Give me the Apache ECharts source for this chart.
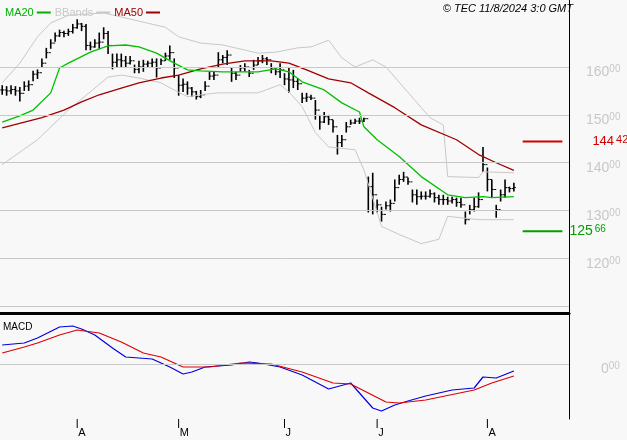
<!DOCTYPE html>
<html>
<head>
<meta charset="utf-8">
<script src="https://cdn.jsdelivr.net/npm/echarts@6/dist/echarts.min.js"></script>
<style>
  html, body { margin: 0; padding: 0; background: #f8f8f8; }
  #chart { width: 627px; height: 440px; }
</style>
</head>
<body>
<div id="chart"></div>
<script>
// daily bars (index 0 = first bar on the left)
var closes = [155.2,155.0,155.3,155.0,154.5,156.0,156.3,158.5,158.8,160.8,
  163.0,165.0,166.5,167.2,167.0,167.4,168.2,169.0,168.5,164.5,
  164.2,165.0,165.2,167.0,164.5,161.0,161.5,161.3,160.8,161.3,
  159.5,160.0,160.6,160.8,161.0,159.8,161.3,162.3,163.0,159.8,
  156.2,156.4,155.6,154.8,153.8,154.2,156.0,158.1,158.3,161.5,
  162.0,162.5,158.7,158.3,159.8,160.0,158.7,160.4,161.3,161.7,
  161.5,159.8,159.0,159.4,157.5,157.3,157.0,156.5,153.5,153.7,
  153.5,151.0,148.5,149.6,149.0,147.5,144.2,144.8,147.5,148.3,
  148.7,148.7,149.2,135.0,133.3,131.2,129.2,131.0,131.5,134.8,
  136.5,137.0,136.0,133.3,132.9,133.0,133.0,133.5,132.7,132.3,
  132.3,132.0,132.3,131.7,131.2,128.1,130.2,130.8,132.3,139.6,
  136.5,134.4,130.2,133.3,134.8,134.6,134.8];
var highs = [156.2,156.0,156.2,156.0,155.8,157.0,157.2,159.2,159.5,161.8,
  164.0,165.8,167.2,167.8,167.6,168.0,169.0,170.0,169.2,169.0,
  165.3,165.8,167.2,168.3,167.5,162.8,162.8,162.8,162.3,162.3,
  160.5,161.3,161.5,161.3,161.8,161.8,161.8,163.0,164.5,161.8,
  158.3,157.6,157.0,155.8,155.0,155.2,157.0,159.0,159.0,163.1,
  162.5,163.5,160.0,159.0,160.4,160.8,159.4,161.5,162.1,162.5,
  162.1,160.8,159.8,160.8,158.7,160.0,159.4,157.7,154.6,154.6,
  154.2,153.1,150.0,150.6,150.0,149.0,145.8,145.8,148.5,149.0,
  149.2,149.4,149.4,137.1,137.9,132.3,130.8,131.9,132.3,136.5,
  137.5,138.1,136.9,134.4,134.4,134.0,134.0,134.4,133.8,133.3,
  133.3,132.9,132.9,132.7,132.7,129.8,131.2,132.7,133.8,143.3,
  139.0,136.5,131.2,134.4,136.5,135.0,135.8];
var lows = [154.2,154.0,154.3,154.0,152.8,155.0,155.0,157.0,157.5,159.8,
  161.8,163.8,165.3,166.3,166.2,166.5,167.0,168.0,167.5,163.5,
  163.5,164.0,163.8,165.8,162.7,159.5,160.0,160.0,159.8,160.5,
  158.7,158.7,159.0,160.0,159.8,157.8,160.4,161.3,161.5,157.7,
  154.0,154.8,154.2,153.8,153.2,153.5,155.0,157.3,157.3,159.8,
  160.8,160.4,156.9,157.3,159.0,159.0,157.9,159.4,160.4,160.8,
  160.4,158.7,158.3,157.7,156.2,154.6,155.6,155.2,152.5,152.7,
  153.1,149.0,146.9,148.3,147.9,146.3,141.7,143.3,146.3,147.9,
  148.1,148.1,148.5,129.6,129.2,129.6,127.7,130.2,129.8,131.9,
  135.4,136.0,135.4,131.7,131.2,132.3,132.3,132.7,131.7,131.2,
  131.2,131.2,131.5,130.8,130.6,127.1,129.2,129.8,130.6,138.1,
  134.0,132.7,128.5,131.9,132.7,133.8,134.0];

// indicator lines, [bar index, value]
var ma20 = [[0,148.5],[4,149.8],[7,151],[11,154.6],[13,159.8],[15,160.8],[20,163.1],[24,164.4],
  [28,164.6],[31,164.2],[35,162.9],[39,160.8],[42,159.4],[45,159.2],[50,159],[58,159],[62,159.6],
  [65,159],[68,156.9],[73,155.2],[77,152.5],[81,150.6],[82,147.5],[85,144.8],[90,141.3],[95,137.1],
  [101,133.3],[105,132.7],[109,132.9],[111,132.7],[116,132.9]];
var ma50 = [[0,147.3],[9,149.4],[14,151],[18,152.7],[22,154.2],[27,155.6],[31,156.7],[36,157.7],
  [40,158.3],[45,159.6],[50,160.6],[55,161.3],[61,161.3],[65,160.8],[69,159.4],[74,157.5],[79,156.7],
  [83,154.6],[89,151.5],[95,147.9],[103,144.8],[108,141.7],[112,140],[116,138.4]];
var bbUpper = [[0,156.7],[4,160.8],[8,166.3],[11,169.2],[15,170.8],[23,171.3],[37,168.3],[40,166.3],
  [45,165],[50,164.6],[58,162.9],[62,163.1],[67,164],[70,164.2],[74,165.6],[77,161.9],[80,160],
  [84,161.5],[87,160],[97,149.4],[100,147.9],[101,137.1],[108,136.9],[109,138.1],[116,137.9]];
var bbLower = [[0,139.6],[8,144.8],[15,151],[24,157.9],[27,158.3],[31,157.7],[36,156.7],[39,155.2],
  [42,153.8],[45,154.2],[49,154.6],[58,154.6],[63,156.3],[65,154.8],[68,151.7],[71,146.3],[74,143.3],
  [80,142.7],[82,138.5],[86,126.7],[90,125],[95,123.1],[99,124],[101,128.8],[108,128.1],[116,128.1]];
var macd = [[0,1.9],[5,2.1],[8,2.6],[13,3.7],[16,3.8],[18,3.5],[21,2.9],[25,1.6],[28,0.7],[34,0.5],
  [38,-0.3],[41,-1.0],[43,-0.8],[46,-0.3],[52,-0.1],[56,0.2],[58,0.1],[63,-0.3],[68,-1.1],[74,-2.5],
  [79,-1.9],[81,-2.9],[84,-4.4],[86,-4.7],[89,-4.1],[92,-3.7],[96,-3.2],[102,-2.6],[107,-2.4],
  [109,-1.3],[112,-1.4],[116,-0.7]];
var signal = [[0,1.1],[5,1.7],[8,2.1],[13,2.9],[17,3.4],[22,3.1],[27,2.2],[32,1.1],[36,0.7],[41,-0.3],
  [47,-0.3],[54,0.1],[61,0],[68,-0.8],[75,-1.9],[79,-2.0],[87,-3.8],[90,-3.9],[96,-3.6],[107,-2.6],
  [111,-1.9],[116,-1.2]];

var levelHigh = 144.42;
var levelLow = 125.66;
var priceGrid = [110, 120, 130, 140, 150, 160];
var priceLabels = [120, 130, 140, 150, 160];
var monthTicks = {17: 'A', 40: 'M', 64: 'J', 85: 'J', 110: 'A'};
var slotCount = 129;

var categories = [];
for (var i = 0; i < slotCount; i++) categories.push(monthTicks[i] || '');
var tickIdx = Object.keys(monthTicks).map(Number);

var ohlc = [];
for (var i = 0; i < closes.length; i++)
  ohlc.push([i, lows[i], highs[i], i > 0 ? closes[i - 1] : closes[i], closes[i]]);

function supLabel(v, dec) {
  return '{a|' + v + '}{b|' + dec + '}';
}

var chart = echarts.init(document.getElementById('chart'));
var font = 'Liberation Sans';
var supRich = { a: { color: '#c8c8c8', fontSize: 14 }, b: { color: '#c8c8c8', fontSize: 10, padding: [0, 0, 6, 0] } };

var option = {
  backgroundColor: '#f8f8f8',
  animation: false,
  textStyle: { fontFamily: font },
  legend: {
    left: 0, top: 2, itemGap: 4, itemWidth: 14, itemHeight: 2, align: 'right',
    icon: 'rect', selectedMode: false,
    textStyle: { fontSize: 11, padding: [0, -2, 0, 0] },
    data: [
      { name: 'MA20', textStyle: { color: '#00b000' } },
      { name: 'BBands', textStyle: { color: '#c8c8c8' } },
      { name: 'MA50', textStyle: { color: '#a00000' } }
    ]
  },
  graphic: [
    { type: 'text', right: 54, top: 3, style: { text: '\u00a9 TEC 11/8/2024 3:0 GMT', font: 'italic 11px ' + font, fill: '#000' } },
    { type: 'text', left: 3, top: 322, style: { text: 'MACD', font: '10px ' + font, fill: '#000' } }
  ],
  grid: [
    { left: 0, top: 0, width: 569, height: 313 },
    { left: 0, top: 315, width: 569, height: 104 }
  ],
  xAxis: [
    { type: 'category', gridIndex: 0, data: categories,
      axisLine: { lineStyle: { color: '#000', width: 3 } },
      axisTick: { show: false }, axisLabel: { show: false } },
    { type: 'category', gridIndex: 1, data: categories,
      axisLine: { lineStyle: { color: '#000', width: 1 } },
      axisTick: { show: false },
      axisLabel: { interval: function (idx) { return !!monthTicks[idx]; },
        align: 'left', margin: 8, color: '#000', fontSize: 11, padding: [0, 0, 0, 1] } }
  ],
  yAxis: [
    { type: 'value', gridIndex: 0, position: 'right', min: 108.6, max: 174, scale: true,
      axisLine: { show: true, lineStyle: { color: '#000' } },
      axisTick: { show: false }, splitLine: { show: false },
      axisLabel: { customValues: priceLabels, margin: 17, padding: [11, 0, 0, 0],
        formatter: function (v) { return supLabel(v, '00'); }, rich: supRich } },
    { type: 'value', gridIndex: 1, position: 'right', min: -5.5, max: 4.9,
      axisLine: { show: true, lineStyle: { color: '#000' } },
      axisTick: { show: false }, splitLine: { show: false },
      axisLabel: { customValues: [0], margin: 32, padding: [11, 0, 0, 0],
        formatter: function () { return supLabel('0', '00'); }, rich: supRich } }
  ],
  series: [
    { name: 'grid', type: 'line', data: [], xAxisIndex: 0, yAxisIndex: 0,
      markLine: { silent: true, symbol: 'none', label: { show: false },
        lineStyle: { color: '#c8c8c8', type: 'solid', width: 1 },
        data: priceGrid.map(function (v) { return { yAxis: v }; }) } },
    { name: 'BBands', type: 'line', data: bbUpper, showSymbol: false, xAxisIndex: 0, yAxisIndex: 0,
      itemStyle: { color: '#c8c8c8' }, lineStyle: { color: '#c8c8c8', width: 1 } },
    { name: 'BBands', type: 'line', data: bbLower, showSymbol: false, xAxisIndex: 0, yAxisIndex: 0,
      lineStyle: { color: '#c8c8c8', width: 1 } },
    { name: 'MA50', type: 'line', data: ma50, showSymbol: false, xAxisIndex: 0, yAxisIndex: 0,
      itemStyle: { color: '#a00000' }, lineStyle: { color: '#a00000', width: 1.3 } },
    { name: 'MA20', type: 'line', data: ma20, showSymbol: false, xAxisIndex: 0, yAxisIndex: 0,
      itemStyle: { color: '#00b000' }, lineStyle: { color: '#00c000', width: 1.3 } },
    { name: 'ohlc', type: 'custom', xAxisIndex: 0, yAxisIndex: 0, data: ohlc,
      renderItem: function (params, api) {
        var x = api.coord([api.value(0), 0])[0];
        var lo = api.coord([api.value(0), api.value(1)])[1];
        var hi = api.coord([api.value(0), api.value(2)])[1];
        var op = api.coord([api.value(0), api.value(3)])[1];
        var cl = api.coord([api.value(0), api.value(4)])[1];
        return { type: 'group', children: [
          { type: 'line', shape: { x1: x, y1: hi, x2: x, y2: lo }, style: { stroke: '#000', lineWidth: 1.6 } },
          { type: 'line', shape: { x1: x - 2, y1: op, x2: x, y2: op }, style: { stroke: '#000', lineWidth: 1 } },
          { type: 'line', shape: { x1: x, y1: cl, x2: x + 2, y2: cl }, style: { stroke: '#000', lineWidth: 1 } }
        ] };
      } },
    { name: 'monthTicks', type: 'custom', xAxisIndex: 1, yAxisIndex: 1, clip: false,
      data: tickIdx.map(function (i) { return [i, -5.5]; }),
      renderItem: function (params, api) {
        var p = api.coord([api.value(0), api.value(1)]);
        return { type: 'line', shape: { x1: p[0], y1: p[1], x2: p[0], y2: p[1] + 9 },
          style: { stroke: '#000', lineWidth: 1 } };
      } },
    { name: 'high', type: 'line', data: [[117.5, levelHigh], [127, levelHigh]], showSymbol: false,
      xAxisIndex: 0, yAxisIndex: 0, lineStyle: { color: '#d00000', width: 2 },
      endLabel: { show: true, distance: 30,
        formatter: function () { return '{a|144}{b|42}'; },
        rich: { a: { color: '#d00000', fontSize: 13 }, b: { color: '#d00000', fontSize: 11, padding: [0, 0, 3, 2] } } } },
    { name: 'low', type: 'line', data: [[117.5, levelLow], [127, levelLow]], showSymbol: false,
      xAxisIndex: 0, yAxisIndex: 0, lineStyle: { color: '#00a000', width: 2 },
      endLabel: { show: true, distance: 7,
        formatter: function () { return '{a|125}{b|66}'; },
        rich: { a: { color: '#00a000', fontSize: 14 }, b: { color: '#00a000', fontSize: 10, padding: [0, 0, 4, 2] } } } },
    { name: 'MACD', type: 'line', data: macd, showSymbol: false, xAxisIndex: 1, yAxisIndex: 1,
      lineStyle: { color: '#0000e0', width: 1.2 },
      markLine: { silent: true, symbol: 'none', label: { show: false },
        lineStyle: { color: '#c8c8c8', type: 'solid', width: 1 }, data: [{ yAxis: 0 }] } },
    { name: 'signal', type: 'line', data: signal, showSymbol: false, xAxisIndex: 1, yAxisIndex: 1,
      lineStyle: { color: '#e00000', width: 1.2 } }
  ]
};

chart.setOption(option);
</script>
</body>
</html>
